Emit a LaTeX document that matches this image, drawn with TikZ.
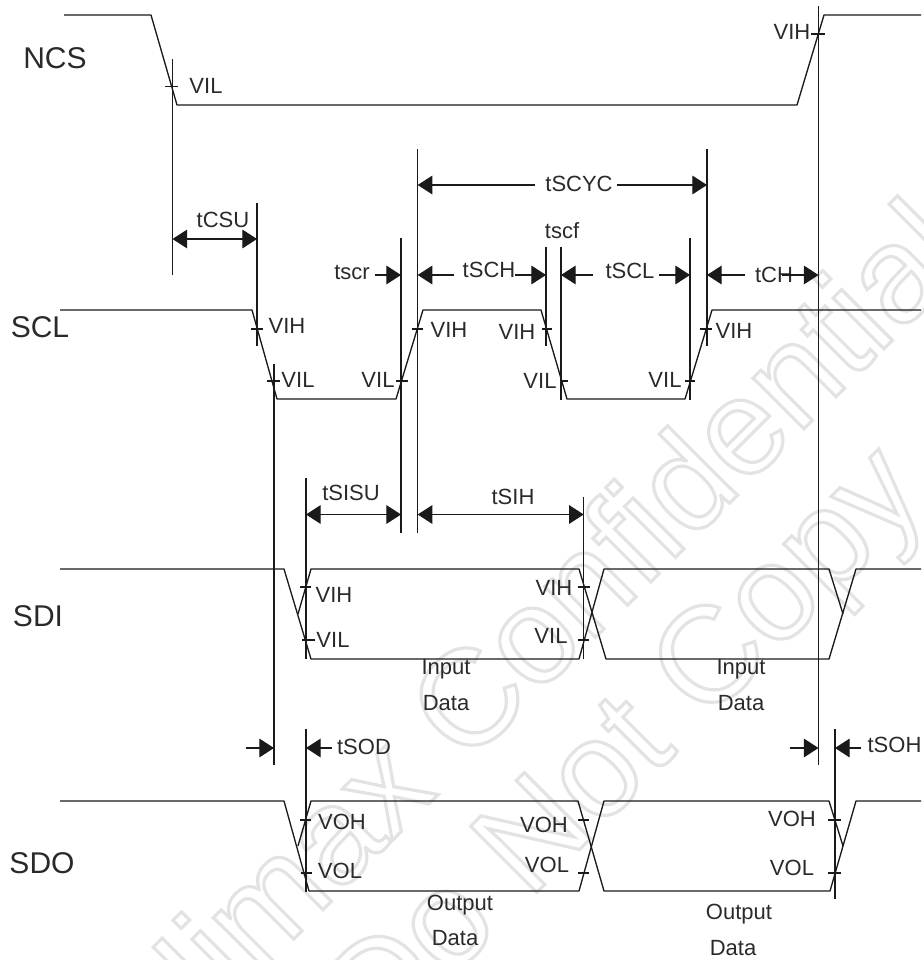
\documentclass[tikz,border=0pt]{standalone}
\usepackage{fontspec}
\setmainfont{Liberation Sans}
\usetikzlibrary{arrows.meta}
\definecolor{ink}{HTML}{1A1A1A}
\definecolor{txt}{HTML}{2A2A2A}
\tikzset{
  wave/.style={draw=ink,line width=1pt,line join=round},
  guide/.style={draw=ink,line width=1pt},
  tick/.style={draw=ink,line width=0.8pt},
  dimline/.style={draw=ink,line width=0.9pt,-{Triangle[length=11pt,width=14pt]}},
  dimboth/.style={draw=ink,line width=0.9pt,{Triangle[length=11pt,width=14pt]}-{Triangle[length=11pt,width=14pt]}},
  sig/.style={font=\fontsize{22.5}{24}\selectfont,text=txt,inner sep=0pt},
  lab/.style={font=\fontsize{16.5}{18}\selectfont,text=txt,inner sep=0pt},
  wmark/.style={rotate=45,inner sep=0pt,font=\fontsize{102}{102}\selectfont}
}
\newcommand{\wmtext}[1]{\special{pdf:code 1 Tr 2.4 w 0.89 G}#1\special{pdf:code 0 Tr}}
\begin{document}
\begin{tikzpicture}[x=0.75pt,y=-0.75pt]
\useasboundingbox (0,0) rectangle (924,960);
% watermark
\node[wmark] (wm1) at (536,628) {\wmtext{Himax Confidential}};
\node[wmark] (wm2) at (631,751) {\wmtext{Do Not Copy}};
% waveforms
\draw[wave] (64,15) -- (151,15) -- (177,105) -- (797,105) -- (824,15) -- (921,15);
\draw[wave] (60,310) -- (252,310) -- (277,399) -- (396,399) -- (423,310) -- (541,310) -- (567,399) -- (685,399) -- (712,310) -- (921,310);
\draw[wave] (60,569) -- (284,569) -- (311,659) -- (579,659) -- (604,569) -- (829,569) -- (843,614);
\draw[wave] (298,614) -- (311,569) -- (579,569) -- (606,659) -- (829,659) -- (856,569) -- (921,569);
\draw[wave] (60,801) -- (284,801) -- (309,891) -- (579,891) -- (604,801) -- (829,801) -- (843,846);
\draw[wave] (298,846) -- (311,801) -- (578,801) -- (604,891) -- (830,891) -- (856,801) -- (921,801);
% threshold ticks
\foreach \xa/\xb/\yy in {165/178/86.5, 811/825/34, 251/263/329, 267/280/381, 396/408/381, 412/423/329, 542/552/329, 561/568/381, 685/695/381, 700/712/329, 300/311/587, 302/315/640, 578/590/587, 578/589/640, 300/311/820, 301/312/873, 578/589/820, 578/589/873, 828/841/820, 828/841/873}
  \draw[tick] (\xa,\yy) -- (\xb,\yy);
% reference lines
\coordinate (a1) at (172.5,59);   \coordinate (a2) at (172.5,275);
\coordinate (b1) at (818.5,6);    \coordinate (b2) at (818.5,765);
\coordinate (c1) at (257,203);    \coordinate (c2) at (257,346);
\coordinate (d1) at (274,364);    \coordinate (d2) at (274,765);
\coordinate (e1) at (401,238);    \coordinate (e2) at (401,533);
\coordinate (f1) at (417.7,149);  \coordinate (f2) at (417.7,533);
\coordinate (g1) at (546,247);    \coordinate (g2) at (546,346);
\coordinate (h1) at (561,247);    \coordinate (h2) at (561,400);
\coordinate (i1) at (690,238);    \coordinate (i2) at (690,400);
\coordinate (j1) at (707,149);    \coordinate (j2) at (707,346);
\coordinate (k1) at (306,478);    \coordinate (k2) at (306,659);
\coordinate (l1) at (306,729);    \coordinate (l2) at (306,892);
\coordinate (m1) at (583.7,497);  \coordinate (m2) at (583.7,659);
\coordinate (n1) at (835,729);    \coordinate (n2) at (835,899);
\foreach \p in {a,b,c,d,e,f,g,h,i,j,k,l,m,n} \draw[guide] (\p1) -- (\p2);
% signal names
\node[sig] (ncs) at (55,58) {NCS};
\node[sig] (scl) at (40,327) {SCL};
\node[sig] (sdi) at (38,616) {SDI};
\node[sig] (sdo) at (42,863) {SDO};
% level labels
\node[lab] (l01) at (206,86) {VIL};
\node[lab] (l02) at (792,32) {VIH};
\node[lab] (l03) at (287,326) {VIH};
\node[lab] (l04) at (298,380) {VIL};
\node[lab] (l05) at (378,380) {VIL};
\node[lab] (l06) at (449,330) {VIH};
\node[lab] (l07) at (517,332) {VIH};
\node[lab] (l08) at (540,381) {VIL};
\node[lab] (l09) at (665,380) {VIL};
\node[lab] (l10) at (734,331) {VIH};
\node[lab] (l11) at (334,595) {VIH};
\node[lab] (l12) at (333,640) {VIL};
\node[lab] (l13) at (554,588) {VIH};
\node[lab] (l14) at (551,636) {VIL};
\node[lab] (l15) at (342,822) {VOH};
\node[lab] (l16) at (340,871) {VOL};
\node[lab] (l17) at (544,825) {VOH};
\node[lab] (l18) at (547,865) {VOL};
\node[lab] (l19) at (792,819) {VOH};
\node[lab] (l20) at (792,868) {VOL};
% data labels
\node[lab] (in1a) at (446,669) {Input};
\node[lab] (in1b) at (446,703) {Data};
\node[lab] (in2a) at (741,669) {Input};
\node[lab] (in2b) at (741,703) {Data};
\node[lab] (ou1a) at (460,905) {Output};
\node[lab] (ou1b) at (455,938) {Data};
\node[lab] (ou2a) at (739,914) {Output};
\node[lab] (ou2b) at (733,948) {Data};
% timing labels
\node[lab] (tcsu) at (223,220) {tCSU};
\node[lab] (tscyc) at (579,184) {tSCYC};
\node[lab] (tscr) at (352,272) {tscr};
\node[lab] (tsch) at (489,270) {tSCH};
\node[lab] (tscf) at (562,231) {tscf};
\node[lab] (tscl) at (630,271) {tSCL};
\node[lab] (tch) at (774,275) {tCH};
\node[lab] (tsisu) at (351,493) {tSISU};
\node[lab] (tsih) at (513,497) {tSIH};
\node[lab] (tsod) at (364,747) {tSOD};
\node[lab] (tsoh) at (894.5,745) {tSOH};
% timing arrows
\coordinate (csuL) at (172.5,239); \coordinate (csuR) at (257,239);
\draw[dimboth] (csuL) -- (csuR);
\coordinate (cycL) at (417.7,185); \coordinate (cycR) at (707,185);
\coordinate (cycLs) at (535,185);  \coordinate (cycRs) at (617,185);
\draw[dimline] (cycLs) -- (cycL);
\draw[dimline] (cycRs) -- (cycR);
\coordinate (scrS) at (375,275); \coordinate (scrT) at (401,275);
\draw[dimline] (scrS) -- (scrT);
\coordinate (schS) at (454,275); \coordinate (schT) at (417.7,275);
\draw[dimline] (schS) -- (schT);
\coordinate (sch2S) at (515,275); \coordinate (sch2T) at (546,275);
\draw[dimline] (sch2S) -- (sch2T);
\coordinate (sclS) at (593,275); \coordinate (sclT) at (561,275);
\draw[dimline] (sclS) -- (sclT);
\coordinate (scl2S) at (659,275); \coordinate (scl2T) at (690,275);
\draw[dimline] (scl2S) -- (scl2T);
\coordinate (chS) at (745,275); \coordinate (chT) at (707,275);
\draw[dimline] (chS) -- (chT);
\coordinate (ch2S) at (782,275); \coordinate (ch2T) at (818.5,275);
\draw[dimline] (ch2S) -- (ch2T);
\coordinate (isuL) at (306,514.5); \coordinate (isuR) at (401,514.5);
\draw[dimboth] (isuL) -- (isuR);
\coordinate (ihL) at (417.7,514.5); \coordinate (ihR) at (583.7,514.5);
\draw[dimboth] (ihL) -- (ihR);
\coordinate (odS) at (246,748); \coordinate (odT) at (274,748);
\draw[dimline] (odS) -- (odT);
\coordinate (od2S) at (332,748); \coordinate (od2T) at (306,748);
\draw[dimline] (od2S) -- (od2T);
\coordinate (ohS) at (790,748); \coordinate (ohT) at (818.5,748);
\draw[dimline] (ohS) -- (ohT);
\coordinate (oh2S) at (861,748); \coordinate (oh2T) at (835,748);
\draw[dimline] (oh2S) -- (oh2T);
\end{tikzpicture}
\end{document}
